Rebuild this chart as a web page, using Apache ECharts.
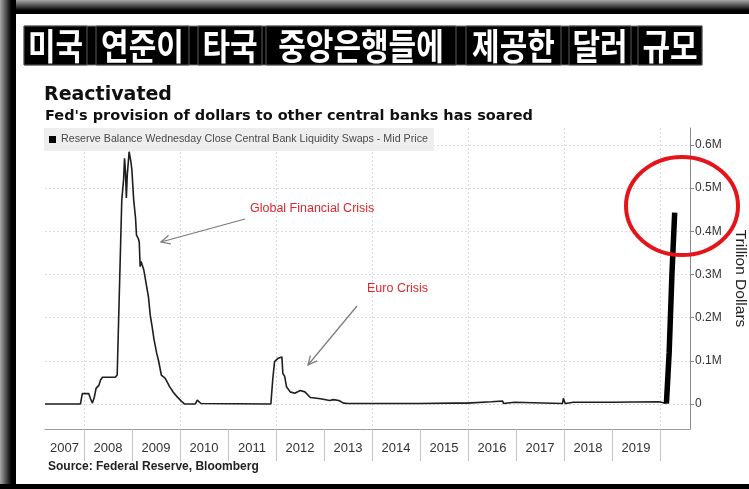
<!DOCTYPE html>
<html><head><meta charset="utf-8">
<script src="https://cdn.jsdelivr.net/npm/echarts/dist/echarts.min.js"></script>
<style>html,body{margin:0;padding:0;background:#fff}#c{width:749px;height:489px}</style>
</head><body><div id="c"></div>
<script>
// ---------- data ----------
const titleWords = ['미국', '연준이', '타국', '중앙은행들에', '제공한', '달러', '규모'];
const headline = 'Reactivated';
const subtitle = "Fed's provision of dollars to other central banks has soared";
const seriesName = 'Reserve Balance Wednesday Close Central Bank Liquidity Swaps - Mid Price';
const sourceText = 'Source: Federal Reserve, Bloomberg';
const yAxisName = 'Trillion Dollars';
const noteGFC = 'Global Financial Crisis';
const noteEuro = 'Euro Crisis';

const swapDates = [
  '2007-03-10','2007-12-05','2007-12-19','2008-02-06','2008-02-20','2008-03-05','2008-03-19','2008-04-02',
  '2008-04-23','2008-05-07','2008-05-21','2008-08-27','2008-09-10','2008-09-17','2008-10-15','2008-10-29',
  '2008-11-05','2008-11-12','2008-11-19','2008-11-26','2008-12-10','2008-12-24','2008-12-31','2009-01-14',
  '2009-01-28','2009-02-04','2009-02-18','2009-02-25','2009-03-04','2009-03-11','2009-03-18','2009-04-01',
  '2009-04-15','2009-05-06','2009-05-20','2009-06-03','2009-06-17','2009-07-08','2009-07-22','2009-08-12',
  '2009-08-26','2009-09-09','2009-09-23','2009-10-14','2009-11-11','2009-12-09','2010-01-13','2010-02-03',
  '2010-04-28','2010-05-12','2010-05-26','2010-06-09','2011-11-23','2011-12-07','2011-12-21','2012-01-04',
  '2012-01-18','2012-02-01','2012-02-15','2012-02-22','2012-03-07','2012-03-21','2012-04-18','2012-05-23',
  '2012-07-04','2012-08-08','2012-09-19','2012-12-05','2013-02-13','2013-03-13','2013-04-24','2013-05-29',
  '2013-07-03','2014-12-31','2015-01-07','2015-01-14','2015-09-09','2015-12-23','2016-06-29','2016-07-06',
  '2016-09-21','2016-09-28','2016-12-21','2016-12-28','2017-12-20','2017-12-27','2018-01-10','2018-03-14',
  '2018-03-21','2018-12-26','2019-01-02','2019-12-25','2020-01-08','2020-02-19'
];
const swapValues = [
  0,0,0.024,0.024,0.012,0.002,0.015,0.036,
  0.043,0.056,0.062,0.062,0.067,0.070,0.472,0.520,
  0.569,0.540,0.477,0.530,0.584,0.560,0.542,0.472,
  0.430,0.391,0.383,0.375,0.318,0.330,0.327,0.310,
  0.285,0.248,0.205,0.179,0.150,0.117,0.100,0.067,
  0.063,0.060,0.052,0.040,0.027,0.017,0.006,0.000,
  0.000,0.009,0.005,0.001,0.000,0.056,0.098,0.099,
  0.106,0.108,0.109,0.071,0.064,0.040,0.028,0.025,
  0.031,0.028,0.015,0.012,0.008,0.010,0.008,0.002,
  0.001,0.001,0.003,0.001,0.002,0.002,0.005,0.001,
  0.007,0.001,0.004,0.001,0.001,0.013,0.001,0.004,
  0.001,0.004,0.001,0.005,0.001,0.001
];
const surgeDates = ['2020-02-19','2020-03-11','2020-04-01','2020-04-22'];
const surgeValues = [0.001, 0.12, 0.30, 0.443];

const yearTicks = [2008,2009,2010,2011,2012,2013,2014,2015,2016,2017,2018,2019,2020];
const gridYears = [2008,2010,2012,2014,2016,2018,2020];
const yearLabels = [2007,2008,2009,2010,2011,2012,2013,2014,2015,2016,2017,2018,2019];
const yTicks = [0, 0.1, 0.2, 0.3, 0.4, 0.5, 0.6];
const yTickLabels = ['0', '0.1M', '0.2M', '0.3M', '0.4M', '0.5M', '0.6M'];
const xMin = 2007.1875, xMax = 2020.625;
const yMin = -0.058, yMax = 0.639;

// ---------- helpers ----------
function decYear(s) {
  const [y, m, d] = s.split('-').map(Number);
  const t = Date.UTC(y, m - 1, d), a = Date.UTC(y, 0, 1), b = Date.UTC(y + 1, 0, 1);
  return y + (t - a) / (b - a);
}
const mainData = swapDates.map((d, i) => [decYear(d), swapValues[i]]);
const surgeData = surgeDates.map((d, i) => [decYear(d), surgeValues[i]]);
const labelPos = yearLabels.map(y => (Math.max(xMin, y) + Math.min(xMax, y + 1)) / 2);

function arrow(x1, y1, x2, y2, col) {
  const ang = Math.atan2(y1 - y2, x1 - x2), L = 10, sp = 0.45;
  return [
    {type: 'line', shape: {x1, y1, x2, y2}, style: {stroke: col, lineWidth: 1.2}, z: 50},
    {type: 'polyline', shape: {points: [
      [x2 + L * Math.cos(ang + sp), y2 + L * Math.sin(ang + sp)], [x2, y2],
      [x2 + L * Math.cos(ang - sp), y2 + L * Math.sin(ang - sp)]]},
     style: {stroke: col, lineWidth: 1.2, fill: null}, z: 50}
  ];
}

// title word boxes (layout)
const boxes = [[24,87],[96,189],[198,262],[266,456],[466,561],[569,631],[638,702]];
const barTop = 26, barBot = 65;
const titleEls = [{type: 'rect', shape: {x: boxes[0][0], y: barTop, width: boxes[6][1] - boxes[0][0], height: barBot - barTop},
  style: {fill: '#000', stroke: '#777', lineWidth: 1}, z: 20}];
boxes.forEach((b, i) => {
  titleEls.push({type: 'rect', shape: {x: b[0], y: barTop, width: b[1] - b[0], height: barBot - barTop},
    style: {fill: '#000', stroke: '#5a5a5a', lineWidth: 1}, z: 21});
  titleEls.push({type: 'text', x: (b[0] + b[1]) / 2, y: (barTop + barBot) / 2 + 1, scaleX: 1.0, scaleY: 1.2, z: 22,
    style: {text: titleWords[i], x: 0, y: 0, textAlign: 'center', textVerticalAlign: 'middle', align: 'center', verticalAlign: 'middle',
      fill: '#fff', fontSize: 30, fontWeight: 'bold', fontFamily: '"Noto Sans CJK KR", sans-serif'}});
});

const chart = echarts.init(document.getElementById('c'), null, {renderer: 'canvas'});
chart.setOption({
  animation: false,
  backgroundColor: '#fff',
  grid: {left: 45, right: 59, top: 128, bottom: 60, outerBoundsMode: 'none', containLabel: false},
  legend: {
    show: true, data: [seriesName], left: 44, top: 128, icon: 'rect', itemWidth: 7, itemHeight: 7, itemGap: 4,
    padding: [6, 6, 6, 5], backgroundColor: 'rgba(236,236,236,0.88)', borderRadius: 0,
    textStyle: {fontSize: 10.7, color: '#4a4a4a', fontFamily: '"Liberation Sans", sans-serif', padding: [0, 0, 0, 0]}
  },
  xAxis: [{
    type: 'value', min: xMin, max: xMax,
    axisLine: {show: true, onZero: false, lineStyle: {color: '#9a9a9a', width: 1}},
    axisTick: {show: true, customValues: yearTicks, length: 32, lineStyle: {color: '#c4c4c4'}},
    axisLabel: {customValues: labelPos, margin: 13, color: '#333', fontSize: 13,
      fontFamily: '"Liberation Sans", sans-serif',
      formatter: v => String(Math.floor(v))},
    splitLine: {show: false}
  }, {
    type: 'value', min: xMin, max: xMax, position: 'bottom',
    axisLine: {show: false}, axisLabel: {show: false},
    axisTick: {show: false, customValues: gridYears},
    splitLine: {show: true, lineStyle: {color: '#d9d9d9', type: [2, 2], width: 1}}
  }],
  yAxis: {
    type: 'value', position: 'right', min: yMin, max: yMax,
    name: yAxisName, nameLocation: 'middle', nameRotate: -90, nameGap: 39,
    nameTextStyle: {fontSize: 15.5, color: '#222', fontFamily: '"Liberation Sans", sans-serif'},
    axisLine: {show: true, lineStyle: {color: '#8a8a8a', width: 1}},
    axisTick: {show: true, customValues: yTicks, length: 4, lineStyle: {color: '#888'}},
    axisLabel: {customValues: yTicks, margin: 5, color: '#333', fontSize: 12,
      fontFamily: '"Liberation Sans", sans-serif',
      formatter: v => yTickLabels[yTicks.findIndex(t => Math.abs(t - v) < 1e-6)] ?? ''},
    splitLine: {show: true, lineStyle: {color: '#dcdcdc', type: [2, 2], width: 1}}
  },
  series: [
    {name: seriesName, type: 'line', xAxisIndex: 0, data: mainData, showSymbol: false, symbol: 'none',
     lineStyle: {color: '#1e1e1e', width: 1.6}, itemStyle: {color: '#000'}, z: 5},
    {name: 'surge', type: 'line', xAxisIndex: 0, data: surgeData, showSymbol: false, symbol: 'none',
     lineStyle: {color: '#000', width: 5.5}, z: 6}
  ],
  graphic: [
    // frame
    {type: 'rect', shape: {x: 0, y: 0, width: 749, height: 14}, z: 100,
     style: {fill: new echarts.graphic.LinearGradient(0, 0, 0, 1, [{offset: 0, color: '#a8a8a8'}, {offset: 0.75, color: '#000'}, {offset: 1, color: '#000'}])}},
    {type: 'rect', shape: {x: 0, y: 0, width: 16, height: 489}, z: 101,
     style: {fill: new echarts.graphic.LinearGradient(0, 0, 1, 0, [{offset: 0, color: '#a8a8a8'}, {offset: 0.7, color: '#000'}, {offset: 1, color: '#000'}])}},
    {type: 'rect', shape: {x: 0, y: 484, width: 749, height: 5}, style: {fill: '#000'}, z: 102},
    ...titleEls,
    {type: 'text', x: 44, y: 95, z: 30, style: {text: headline, x: 0, y: 0, textVerticalAlign: 'middle', verticalAlign: 'middle',
      fill: '#111', fontSize: 19, fontWeight: 'bold', fontFamily: '"DejaVu Sans", sans-serif'}},
    {type: 'text', x: 45, y: 116, z: 30, style: {text: subtitle, x: 0, y: 0, textVerticalAlign: 'middle', verticalAlign: 'middle',
      fill: '#111', fontSize: 14.5, fontWeight: 'bold', fontFamily: '"DejaVu Sans", sans-serif'}},
    {type: 'text', x: 48, y: 467, z: 30, style: {text: sourceText, x: 0, y: 0, textVerticalAlign: 'middle', verticalAlign: 'middle',
      fill: '#222', fontSize: 12, fontWeight: 'bold', fontFamily: '"Liberation Sans", sans-serif'}},
    {type: 'text', x: 250, y: 209, z: 30, style: {text: noteGFC, x: 0, y: 0, textVerticalAlign: 'middle', verticalAlign: 'middle',
      fill: '#e0262c', fontSize: 12.5, fontFamily: '"Liberation Sans", sans-serif'}},
    {type: 'text', x: 367, y: 289, z: 30, style: {text: noteEuro, x: 0, y: 0, textVerticalAlign: 'middle', verticalAlign: 'middle',
      fill: '#e0262c', fontSize: 12.5, fontFamily: '"Liberation Sans", sans-serif'}},
    ...arrow(245, 219, 161, 242, '#7a7a7a'),
    ...arrow(357, 306, 308, 365, '#7a7a7a'),
    {type: 'ellipse', shape: {cx: 682, cy: 206, rx: 56, ry: 49}, z: 60,
     style: {fill: null, stroke: '#e5141b', lineWidth: 4}}
  ]
});
</script>
</body></html>
